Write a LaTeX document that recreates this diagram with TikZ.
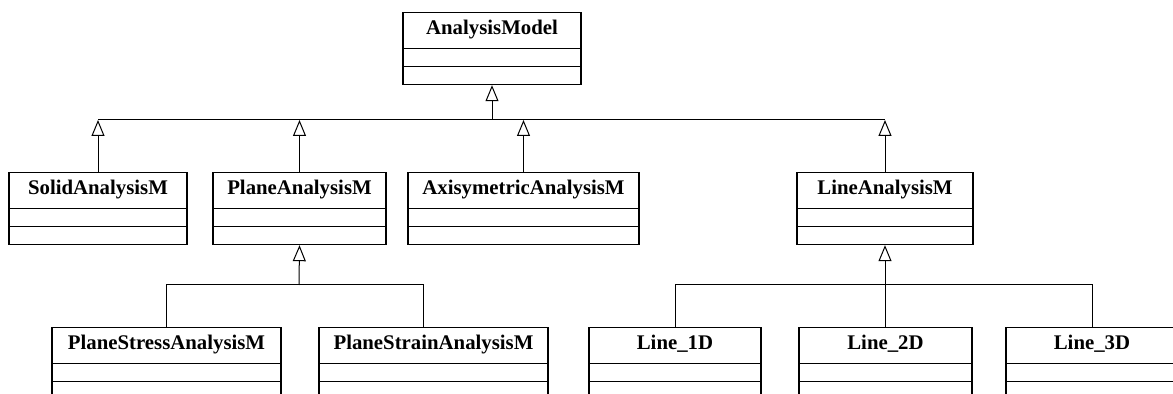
\documentclass[tikz,border=0pt]{standalone}
\usepackage{fontspec}
\setmainfont{Liberation Serif}
\usetikzlibrary{arrows.meta}

\tikzset{
  classe/.style={draw, line width=0.6pt, anchor=north, inner sep=0pt,
    minimum width=#1, text height=11pt, text depth=25pt,
    font=\fontsize{10.4pt}{12pt}\selectfont\bfseries,
    path picture={
      \draw[line width=0.6pt] ([yshift=-18pt]path picture bounding box.north west) -- ([yshift=-18pt]path picture bounding box.north east);
      \draw[line width=0.6pt] ([yshift=-27pt]path picture bounding box.north west) -- ([yshift=-27pt]path picture bounding box.north east);
    }},
  eredita/.style={line width=0.5pt, -{Triangle[open,length=8pt,width=6.5pt]}},
  filo/.style={line width=0.5pt}
}

\begin{document}
\begin{tikzpicture}[x=0.5pt, y=-0.5pt]
        \useasboundingbox (0,0) rectangle (1173,394);

        % Classe base
        \node[classe=89pt] (model) at (492,12) {AnalysisModel};

        % Primo livello
        \node[classe=89pt] (solid) at (98,172) {SolidAnalysisM};
        \node[classe=86.5pt] (plane) at (299.5,172) {PlaneAnalysisM};
        \node[classe=115.5pt] (axisym) at (523.5,172) {AxisymetricAnalysisM};
        \node[classe=88pt] (line) at (885,172) {LineAnalysisM};

        % Secondo livello
        \node[classe=114.5pt] (stress) at (166.5,327) {PlaneStressAnalysisM};
        \node[classe=114.5pt] (strain) at (433.5,327) {PlaneStrainAnalysisM};
        \node[classe=86pt] (line1) at (675,327) {Line\_1D};
        \node[classe=86.5pt] (line2) at (885.5,327) {Line\_2D};
        \node[classe=86pt] (line3) at (1092,327) {Line\_3D};

        % Punti dei collegamenti
        \coordinate (busA) at (492,120);
        \coordinate (busP) at (299,285);
        \coordinate (busL) at (885,285);
        \coordinate (strainin) at ([xshift=-5.25pt]strain.north);

        % Ereditarieta' dal modello base
        \draw[eredita] (busA) -- (model.south);
        \draw[filo] (solid.north |- busA) -- (line.north |- busA);
        \foreach \c in {solid,plane,axisym,line}
          \draw[eredita] (\c.north) -- (\c.north |- busA);

        % Ereditarieta' da PlaneAnalysisM
        \draw[eredita] (busP) -- (plane.south);
        \draw[filo] (stress.north) |- (strainin |- busP) -- (strainin);

        % Ereditarieta' da LineAnalysisM
        \draw[eredita] (line.south |- line2.north) -- (line.south);
        \draw[filo] (line1.north) |- (line3.north |- busL) -- (line3.north);

    \end{tikzpicture}
\end{document}
